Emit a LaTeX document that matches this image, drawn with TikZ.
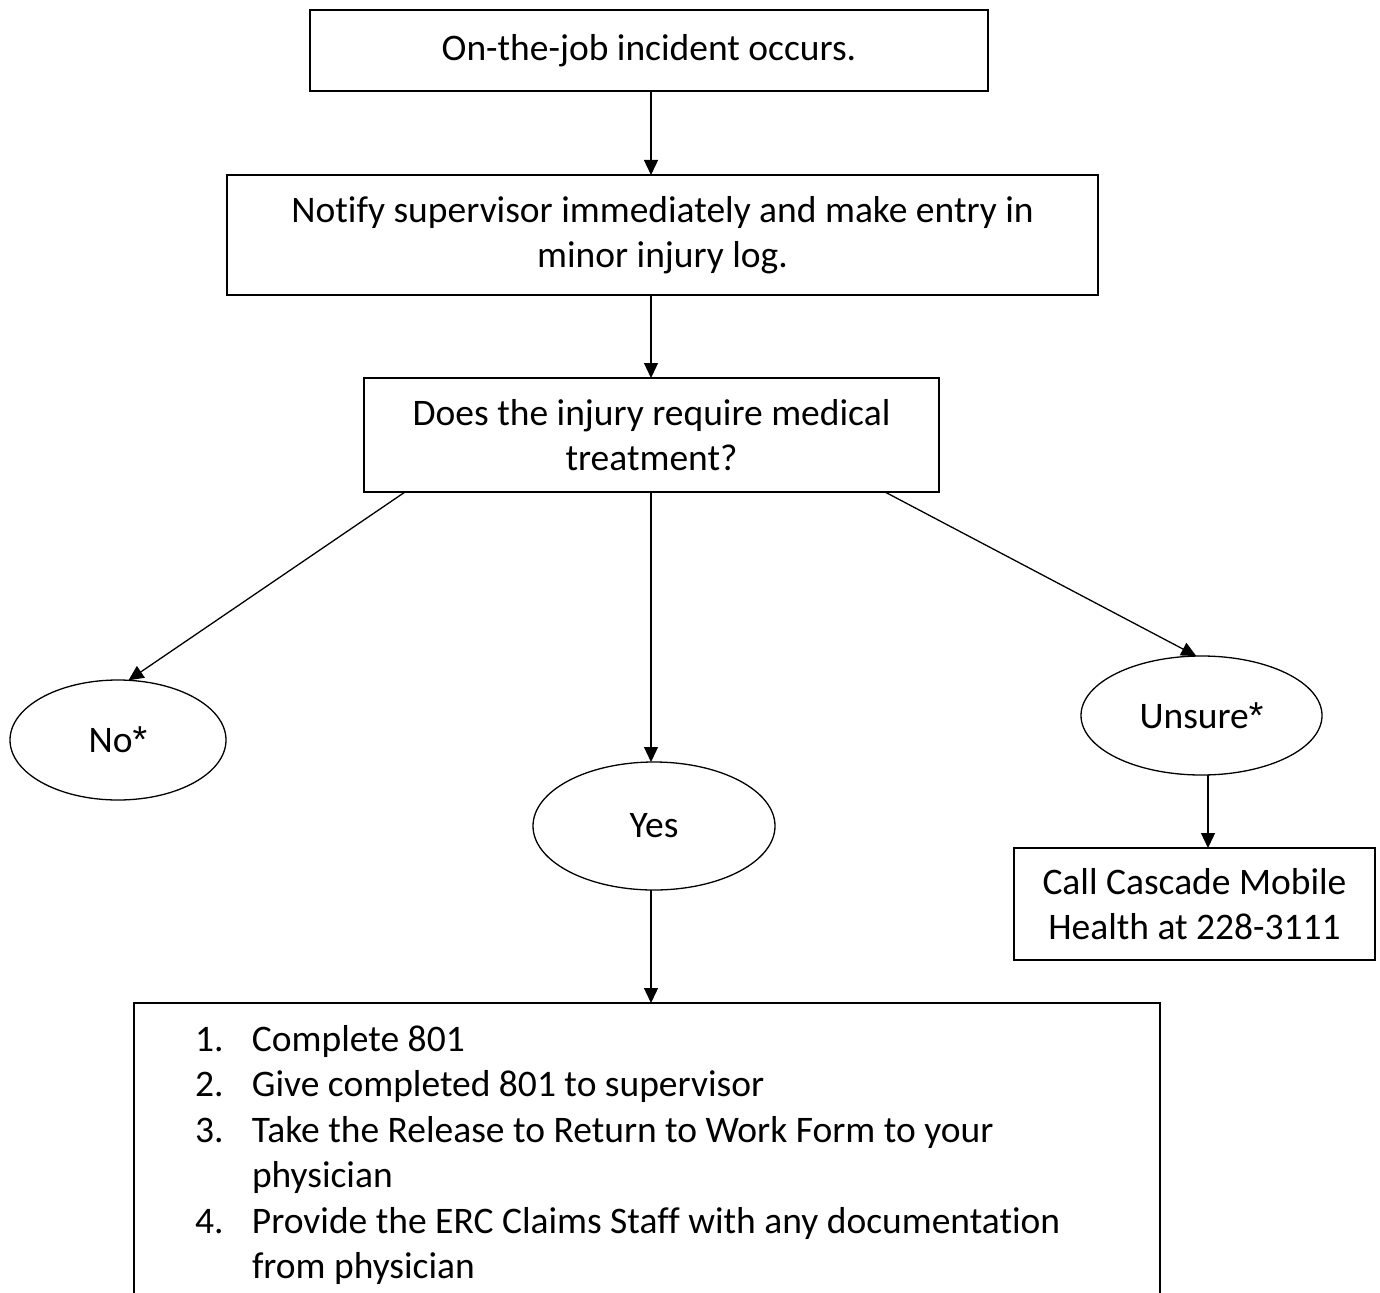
\documentclass[tikz,border=0pt]{standalone}
\usepackage{fontspec}
\setmainfont{Carlito}[Ligatures=NoCommon]
\newfontfamily\astfont{Liberation Sans}
\newcommand{\myast}{{\astfont *}}
\usetikzlibrary{arrows.meta,shapes.geometric}
\begin{document}
\begin{tikzpicture}[x=1pt,y=-1pt,
  every node/.style={inner sep=0pt,outer sep=0pt},
  txt/.style={font=\fontsize{37.5}{45.5}\selectfont,align=center},
  boxn/.style={draw,line width=1.3pt,rectangle,txt},
  ell/.style={draw,line width=1.3pt,ellipse,txt},
  arr/.style={line width=1.3pt,-{Triangle[length=15pt,width=14pt]}}]
\useasboundingbox (0,0) rectangle (1380,1292);
\node[boxn,minimum width=678pt,minimum height=81pt] (b1) at (649,50.5) {On-the-job incident occurs.};
\node[boxn,minimum width=871pt,minimum height=120pt] (b2) at (662.5,235) {Notify supervisor immediately and make entry in\\minor injury log.};
\node[boxn,minimum width=575pt,minimum height=114pt] (b3) at (651.5,435) {Does the injury require medical\\treatment?};
\node[ell,minimum width=216pt,minimum height=120pt] (no) at (118,740) {No\myast};
\node[ell,minimum width=242pt,minimum height=128pt] (yes) at (654,826) {Yes};
\node[ell,minimum width=241pt,minimum height=119pt] (uns) at (1201.5,715.5) {Unsure\myast};
\node[boxn,minimum width=361pt,minimum height=112pt] (call) at (1194.5,904) {Call Cascade Mobile\\Health at 228-3111};
\coordinate (b1s) at (651,91);
\coordinate (b2n) at (651,175);
\coordinate (b2s) at (651,295);
\coordinate (b3n) at (651,378);
\coordinate (b3l) at (405,492);
\coordinate (b3m) at (651,492);
\coordinate (b3r) at (885,492);
\coordinate (yesn) at (651,762);
\coordinate (yess) at (651,890);
\coordinate (unss) at (1208,775);
\coordinate (calln) at (1208,848);
\coordinate (listn) at (651,1003);
\draw[line width=1.3pt] (134,1300) -- (134,1003) -- (1160,1003) -- (1160,1300);
\node[anchor=base west,font=\fontsize{37.5}{45.5}\selectfont] (list) at (195,1051) {%
\begin{tabular}[t]{@{}p{57pt}@{}l@{}}
1. & Complete 801\\
2. & Give completed 801 to supervisor\\
3. & Take the Release to Return to Work Form to your\\
   & physician\\
4. & Provide the ERC Claims Staff with any documentation\\
   & from physician
\end{tabular}};
\draw[arr] (b1s) -- (b2n);
\draw[arr] (b2s) -- (b3n);
\draw[arr] (b3l) -- (no.80);
\draw[arr] (b3m) -- (yesn);
\draw[arr] (b3r) -- (uns.95);
\draw[arr] (unss) -- (calln);
\draw[arr] (yess) -- (listn);
\end{tikzpicture}
\end{document}
